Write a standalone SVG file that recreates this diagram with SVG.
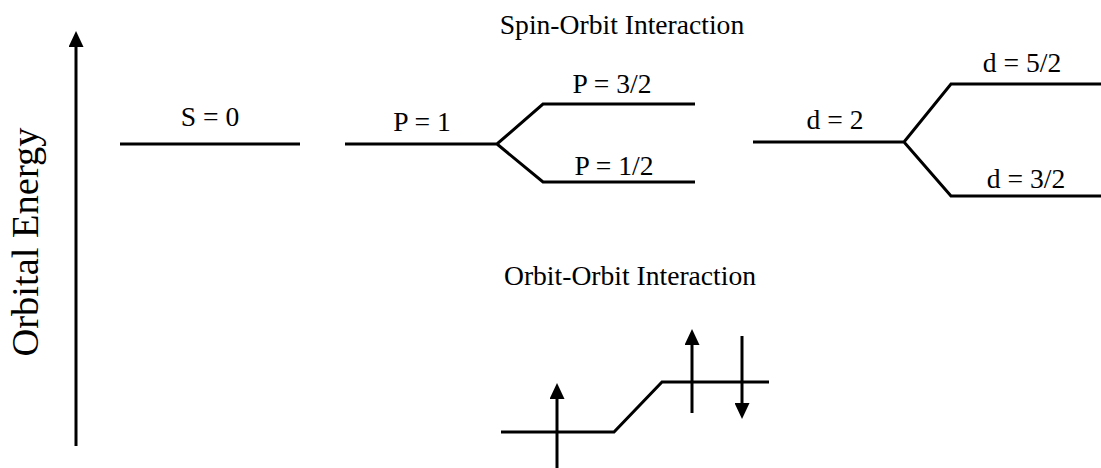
<svg xmlns="http://www.w3.org/2000/svg" width="1101" height="468" viewBox="0 0 1101 468">
<style>
text{font-family:"Liberation Serif","Times New Roman",serif;fill:#000;font-size:27.6px;text-anchor:middle}
.ln{fill:none;stroke:#000;stroke-width:3;stroke-linejoin:miter}
.ar{fill:none;stroke:#000;stroke-width:3}
</style>
<defs>
<marker id="ah" markerWidth="5.3" markerHeight="5" refX="0" refY="2.5" orient="auto" markerUnits="strokeWidth" viewBox="0 0 5.3 5">
<path d="M0,0 L5.3,2.5 L0,5 Z" fill="#000"/>
</marker>
</defs>
<rect width="1101" height="468" fill="#fff"/>
<g id="axis">
<line class="ar" x1="76" y1="446" x2="76" y2="47" marker-end="url(#ah)"/>
<text transform="translate(38,242) rotate(-90)" style="font-size:38.5px">Orbital Energy</text>
</g>
<g id="title-spin-orbit"><text x="622" y="34">Spin-Orbit Interaction</text></g>
<g id="title-orbit-orbit"><text x="630" y="285">Orbit-Orbit Interaction</text></g>
<g id="s-level">
<line class="ln" x1="120" y1="144" x2="300" y2="144"/>
<text x="210" y="126">S = 0</text>
</g>
<g id="p-level">
<path class="ln" d="M345,144 H497 L543,104 H695 M497,144 L543,182 H695"/>
<text x="422" y="131">P = 1</text>
<text x="612" y="93">P = 3/2</text>
<text x="614" y="175">P = 1/2</text>
</g>
<g id="d-level">
<path class="ln" d="M753,142 H904 L951,84 H1101 M904,142 L951,196 H1101"/>
<text x="835" y="129">d = 2</text>
<text x="1022" y="72">d = 5/2</text>
<text x="1026" y="188">d = 3/2</text>
</g>
<g id="orbit-orbit">
<path class="ln" d="M501,432 H614 L662,382 H769"/>
</g>
<g id="connectors">
<line class="ar" x1="557" y1="470" x2="557" y2="399" marker-end="url(#ah)"/>
<line class="ar" x1="692" y1="413" x2="692" y2="345" marker-end="url(#ah)"/>
<line class="ar" x1="742" y1="336" x2="742" y2="403" marker-end="url(#ah)"/>
</g>
</svg>
